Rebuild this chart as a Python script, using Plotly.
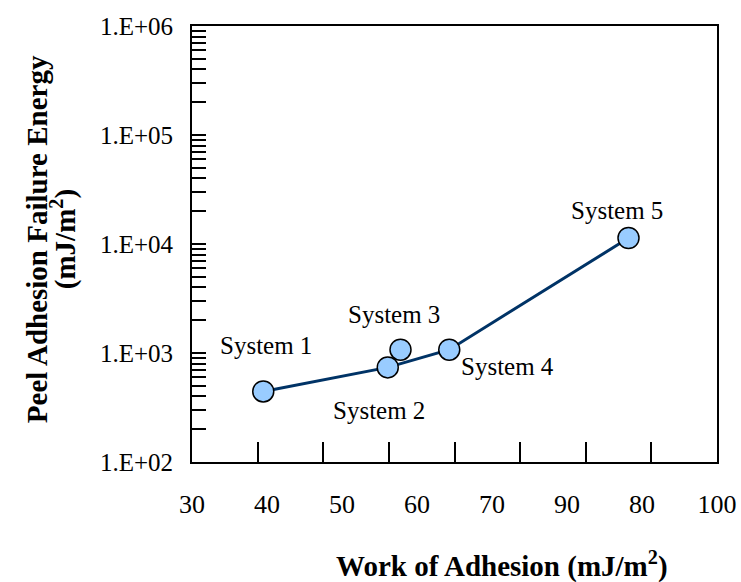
import math
import plotly.graph_objects as go

# Data
systems = ["System 1", "System 2", "System 3", "System 4", "System 5"]
work_of_adhesion = [39.5, 56.1, 57.8, 64.3, 88.2]
peel_energy = [444, 738, 1072, 1072, 11350]
# the connecting line in the reference passes by System 3 (it sits above the line)
on_line = [True, True, False, True, True]

x_tick_vals = [30, 40, 50, 60, 70, 80, 90, 100]
x_tick_text = ["30", "40", "50", "60", "70", "90", "80", "100"]
y_tick_vals = [1e2, 1e3, 1e4, 1e5, 1e6]
y_tick_text = ["1.E+02", "1.E+03", "1.E+04", "1.E+05", "1.E+06"]

# label offsets (px) relative to each point: (dx, dy up)
label_shift = [(3, 46), (-9, -43), (-7, 35), (58, -17), (-12, 28)]

FONT = "Liberation Serif"

line_x = [x for x, k in zip(work_of_adhesion, on_line) if k]
line_y = [y for y, k in zip(peel_energy, on_line) if k]

fig = go.Figure()
fig.add_trace(go.Scatter(
    x=line_x, y=line_y, mode="lines",
    line=dict(color="#003366", width=3),
    showlegend=False, hoverinfo="skip",
))
fig.add_trace(go.Scatter(
    x=work_of_adhesion, y=peel_energy, mode="markers",
    marker=dict(size=21, color="#99CCFF", line=dict(color="black", width=1.5)),
    showlegend=False, hoverinfo="skip",
))
# invisible trace for the secondary axis carrying tick marks
fig.add_trace(go.Scatter(x=[None], y=[None], xaxis="x2", yaxis="y",
                         showlegend=False, hoverinfo="skip"))

minor_vals = [k * 10 ** d for d in range(2, 6) for k in range(2, 10)]

fig.update_layout(
    width=741, height=582,
    margin=dict(l=192, r=24, t=26, b=120, autoexpand=False),
    paper_bgcolor="white", plot_bgcolor="white",
    font=dict(family=FONT, color="black", size=24),
    xaxis=dict(
        range=[30, 100], tickvals=x_tick_vals, ticktext=x_tick_text,
        ticks="", showgrid=False, zeroline=False, automargin=False,
        showline=True, linecolor="black", linewidth=2, mirror=True,
        tickfont=dict(family=FONT, size=26, color="black"),
        ticklabelstandoff=18,
    ),
    xaxis2=dict(
        range=[0, 8], overlaying="x", anchor="y", side="bottom",
        tickvals=list(range(1, 8)), ticks="inside", ticklen=20, tickwidth=1.5,
        tickcolor="black", showticklabels=False, showgrid=False,
        zeroline=False, showline=False, automargin=False,
    ),
    yaxis=dict(
        type="log", range=[2, 6], tickvals=y_tick_vals, ticktext=y_tick_text,
        ticks="inside", ticklen=14, tickwidth=1.5, tickcolor="black",
        minor=dict(tickvals=minor_vals, ticks="inside", ticklen=14,
                   tickwidth=1.5, tickcolor="black", showgrid=False),
        showgrid=False, zeroline=False, automargin=False,
        showline=True, linecolor="black", linewidth=2, mirror=True,
        tickfont=dict(family=FONT, size=25, color="black"),
        ticklabelstandoff=12,
    ),
)

for name, xv, yv, (dx, dy) in zip(systems, work_of_adhesion, peel_energy, label_shift):
    fig.add_annotation(x=xv, y=math.log10(yv), xref="x", yref="y", text=name,
                       showarrow=False, xshift=dx, yshift=dy,
                       font=dict(family=FONT, size=25, color="black"))

# axis titles
fig.add_annotation(x=0.590, y=-0.235, xref="paper", yref="paper",
                   text="<b>Work of Adhesion (mJ/m<sup>2</sup>)</b>",
                   showarrow=False, xanchor="center", yanchor="middle",
                   font=dict(family=FONT, size=29, color="black"))
fig.add_annotation(x=(37 - 192) / 525, y=0.511, xref="paper", yref="paper",
                   text="<b>Peel Adhesion Failure Energy</b>", textangle=-90,
                   showarrow=False, xanchor="center", yanchor="middle",
                   font=dict(family=FONT, size=29, color="black"))
fig.add_annotation(x=(63 - 192) / 525, y=0.511, xref="paper", yref="paper",
                   text="<b>(mJ/m<sup>2</sup>)</b>", textangle=-90,
                   showarrow=False, xanchor="center", yanchor="middle",
                   font=dict(family=FONT, size=29, color="black"))

fig.write_html("out.html")
